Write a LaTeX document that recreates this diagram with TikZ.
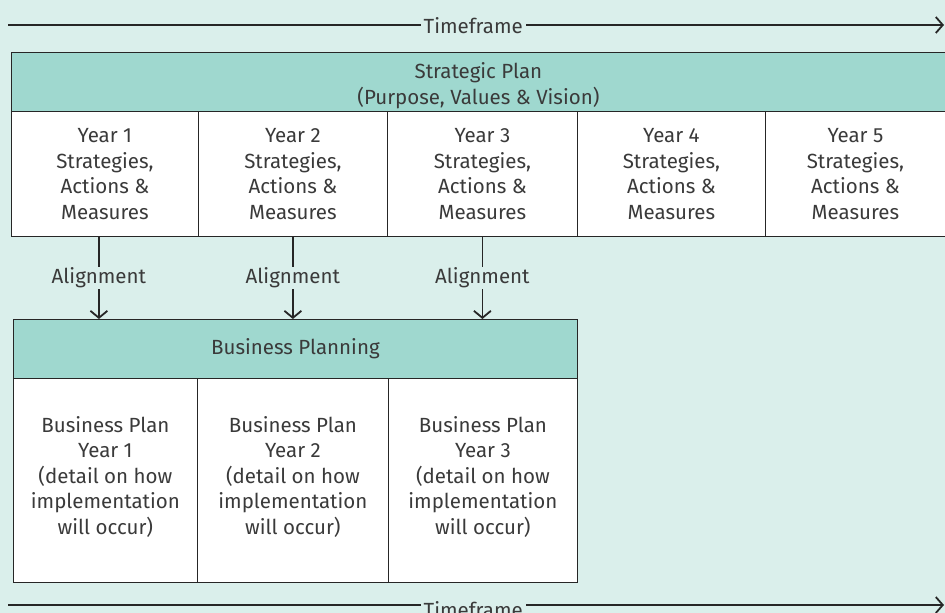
\documentclass[tikz,border=0pt]{standalone}
\usepackage{fontspec}
\setmainfont{Fira Sans}
\usepackage{xcolor}
\usetikzlibrary{positioning, arrows.meta, calc}

\definecolor{bgteal}{HTML}{DAEFEB}
\definecolor{headteal}{HTML}{9FD8CF}
\definecolor{inkgray}{HTML}{3A3A3A}

\begin{document}
\begin{tikzpicture}[
    x=1pt, y=-1pt,
    font=\fontsize{20.5}{25.5}\selectfont,
    text=inkgray,
    box/.style={draw=black!85, line width=0.8pt, anchor=north west, inner sep=0pt, align=center},
    head/.style={box, fill=headteal},
    cell/.style={box, fill=white},
    timeline/.style={line width=2pt, draw=black!85, -{Straight Barb[length=7pt, width=16pt, line width=1.8pt]}},
    flow/.style={line width=1.8pt, draw=black!85, -{Straight Barb[length=7pt, width=17pt, line width=1.8pt]}},
    gap/.style={fill=bgteal, inner sep=3pt}
]
    % canvas
    \fill[bgteal] (0,0) rectangle (945,613);
    \useasboundingbox (0,0) rectangle (945,613);

    % timeframe at the top
    \coordinate (t0) at (8,25);
    \coordinate (t1) at (944,25);
    \draw[timeline] (t0) -- (t1) node[gap, pos=0.497, yshift=-1pt] {Timeframe};

    % strategic plan
    \node[head, minimum width=934pt, minimum height=59pt] (sp) at (11,52) {};
    \node[align=center, inner sep=0pt] (sptext) at ([yshift=-4pt]sp.center)
        {Strategic Plan\\(Purpose, Values \& Vision)};
    \node[cell, minimum width=187pt, minimum height=125pt] (y1) at (11,111)
        {Year 1\\Strategies,\\Actions \&\\Measures};
    \node[cell, minimum width=189pt, minimum height=125pt] (y2) at (198,111)
        {Year 2\\Strategies,\\Actions \&\\Measures};
    \node[cell, minimum width=190pt, minimum height=125pt] (y3) at (387,111)
        {Year 3\\Strategies,\\Actions \&\\Measures};
    \node[cell, minimum width=188pt, minimum height=125pt] (y4) at (577,111)
        {Year 4\\Strategies,\\Actions \&\\Measures};
    \node[cell, minimum width=180pt, minimum height=125pt] (y5) at (765,111)
        {Year 5\\Strategies,\\Actions \&\\Measures};

    % business planning
    \node[head, minimum width=564pt, minimum height=59pt] (bp) at (13,319)
        {Business Planning};
    \node[cell, minimum width=184pt, minimum height=204pt] (b1) at (13,378)
        {Business Plan\\Year 1\\(detail on how\\implementation\\will occur)\\[-15pt]};
    \node[cell, minimum width=191pt, minimum height=204pt] (b2) at (197,378)
        {Business Plan\\Year 2\\(detail on how\\implementation\\will occur)\\[-15pt]};
    \node[cell, minimum width=189pt, minimum height=204pt] (b3) at (388,378)
        {Business Plan\\Year 3\\(detail on how\\implementation\\will occur)\\[-15pt]};

    % alignment arrows
    \draw[flow] ([xshift=-6pt]y1.south) -- ([xshift=-6pt]y1.south |- bp.north)
        node[gap, midway, inner sep=1pt] {Alignment};
    \draw[flow] (y2.south) -- (y2.south |- bp.north)
        node[gap, midway, inner sep=1pt] {Alignment};
    \draw[flow] (y3.south) -- (y3.south |- bp.north)
        node[gap, midway, inner sep=1pt] {Alignment};

    % timeframe at the bottom
    \coordinate (s0) at (8,605);
    \coordinate (s1) at (944,605);
    \draw[timeline] (s0) -- (s1) node[gap, pos=0.497, yshift=-5pt] {Timeframe};
\end{tikzpicture}
\end{document}
